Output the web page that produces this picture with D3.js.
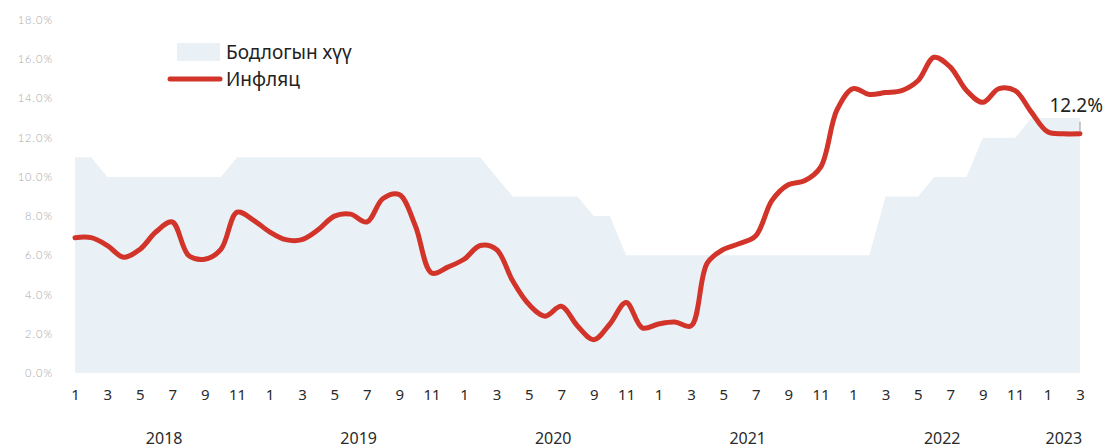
<!DOCTYPE html>
<html>
<head>
<meta charset="utf-8">
<script src="https://cdn.jsdelivr.net/npm/d3@7"></script>
<style>
  html, body { margin: 0; padding: 0; background: #fff; }
  svg { display: block; }
</style>
</head>
<body>
<svg id="chart" width="1112" height="448"></svg>
<script>
// Months (index 0 = Jan 2018 ... index 62 = Mar 2023)
const months = d3.range(63).map(i => (i % 12) + 1);
const years = [
  { label: "2018", mid: 5.5 },
  { label: "2019", mid: 17.5 },
  { label: "2020", mid: 29.5 },
  { label: "2021", mid: 41.5 },
  { label: "2022", mid: 53.5 },
  { label: "2023", mid: 61 }
];
const yTicks = [0, 2, 4, 6, 8, 10, 12, 14, 16, 18];

// Policy rate (Бодлогын хүү), %
const policyRate = [
  11, 11, 10, 10, 10, 10, 10, 10, 10, 10, 11, 11,
  11, 11, 11, 11, 11, 11, 11, 11, 11, 11, 11, 11,
  11, 11, 10, 9, 9, 9, 9, 9, 8, 8, 6, 6,
  6, 6, 6, 6, 6, 6, 6, 6, 6, 6, 6, 6,
  6, 6, 9, 9, 9, 10, 10, 10, 12, 12, 12, 13,
  13, 13, 13
];

// Inflation (Инфляц), %
const inflation = [
  6.9, 6.9, 6.5, 5.9, 6.3, 7.2, 7.7, 6.0, 5.8, 6.3, 8.2, 7.8,
  7.2, 6.8, 6.8, 7.3, 8.0, 8.1, 7.7, 8.9, 9.1, 7.5, 5.1, 5.4,
  5.8, 6.5, 6.3, 4.7, 3.5, 2.9, 3.4, 2.4, 1.7, 2.5, 3.6, 2.3,
  2.5, 2.6, 2.4, 5.6, 6.3, 6.6, 7.0, 8.8, 9.6, 9.8, 10.5, 13.4,
  14.5, 14.2, 14.3, 14.4, 14.9, 16.1, 15.6, 14.4, 13.8, 14.5, 14.4, 13.3,
  12.3, 12.2, 12.2
];

const lastLabel = "12.2%";

const svg = d3.select("#chart");
const x = d3.scaleLinear().domain([0, 62]).range([75, 1080]);
const y = d3.scaleLinear().domain([0, 18]).range([373, 20]);

// Policy rate area
const area = d3.area()
  .x((d, i) => x(i))
  .y0(y(0))
  .y1(d => y(d))
  .curve(d3.curveLinear);
svg.append("path")
  .datum(policyRate)
  .attr("d", area)
  .attr("fill", "#e9f1f7");

// Inflation line
const line = d3.line()
  .x((d, i) => x(i))
  .y(d => y(d))
  .curve(d3.curveCatmullRom.alpha(0.5));
svg.append("path")
  .datum(inflation)
  .attr("d", line)
  .attr("fill", "none")
  .attr("stroke", "#d2342a")
  .attr("stroke-width", 5)
  .attr("stroke-linecap", "round")
  .attr("stroke-linejoin", "round");

// Y axis
const yAxis = d3.axisLeft(y)
  .tickValues(yTicks)
  .tickFormat(d => d.toFixed(1) + "%")
  .tickSize(0)
  .tickPadding(0);
const gy = svg.append("g").attr("transform", "translate(53,0)").call(yAxis);
gy.select(".domain").remove();
gy.selectAll("text")
  .attr("fill", "#a8a8a8")
  .attr("font-family", "Lato, sans-serif")
  .attr("font-weight", 300)
  .attr("font-size", 11)
  .attr("letter-spacing", "1px");

// X axis (months)
const xAxis = d3.axisBottom(x)
  .tickValues(d3.range(63).filter(i => months[i] % 2 === 1))
  .tickFormat(i => months[i])
  .tickSize(0)
  .tickPadding(0);
const gx = svg.append("g").attr("transform", "translate(0,389)").call(xAxis);
gx.select(".domain").remove();
gx.selectAll("text")
  .attr("fill", "#2a2a2a")
  .attr("font-family", "'Noto Sans', sans-serif")
  .attr("font-size", 15);

// Year labels
svg.append("g").selectAll("text")
  .data(years)
  .join("text")
  .attr("x", d => x(d.mid))
  .attr("y", 444)
  .attr("text-anchor", "middle")
  .attr("fill", "#2a2a2a")
  .attr("font-family", "'Noto Sans', sans-serif")
  .attr("font-size", 16)
  .text(d => d.label);

// End label
svg.append("line")
  .attr("x1", x(62)).attr("x2", x(62))
  .attr("y1", y(inflation[62]) - 12).attr("y2", y(inflation[62]) - 2)
  .attr("stroke", "#999").attr("stroke-width", 1);
svg.append("text")
  .attr("x", 1103)
  .attr("y", 112)
  .attr("text-anchor", "end")
  .attr("fill", "#222")
  .attr("font-family", "'Noto Sans', sans-serif")
  .attr("font-size", 19)
  .text(lastLabel);

// Legend
const lg = svg.append("g");
lg.append("rect")
  .attr("x", 177).attr("y", 43).attr("width", 43).attr("height", 18)
  .attr("fill", "#e9f1f7");
lg.append("line")
  .attr("x1", 170).attr("x2", 220).attr("y1", 79).attr("y2", 79)
  .attr("stroke", "#d2342a").attr("stroke-width", 5).attr("stroke-linecap", "round");
lg.append("text")
  .attr("x", 226).attr("y", 59)
  .attr("fill", "#222").attr("font-family", "'Noto Sans', sans-serif").attr("font-size", 19)
  .text("Бодлогын хүү");
lg.append("text")
  .attr("x", 226).attr("y", 86)
  .attr("fill", "#222").attr("font-family", "'Noto Sans', sans-serif").attr("font-size", 19)
  .text("Инфляц");
</script>
</body>
</html>
